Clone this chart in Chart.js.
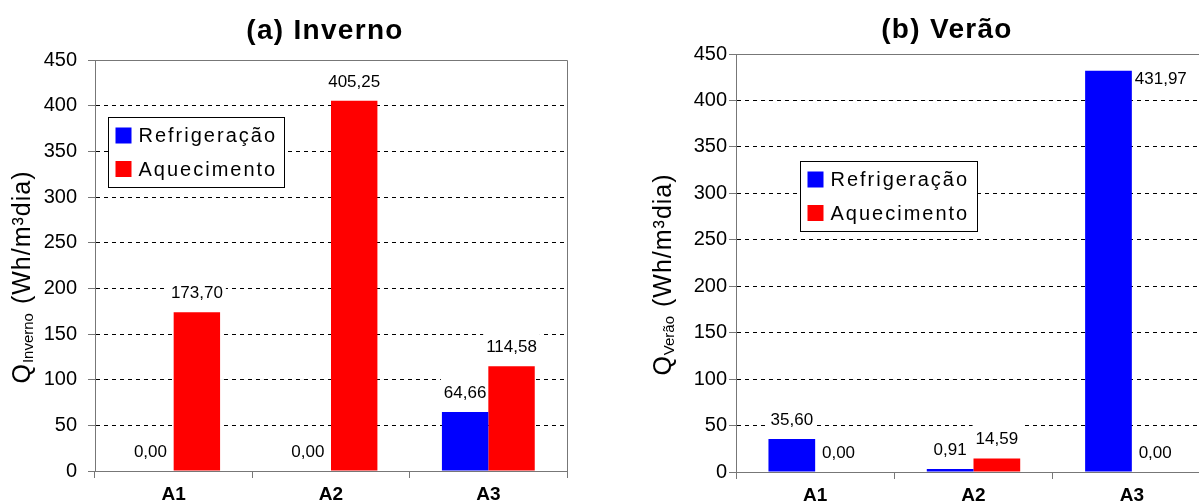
<!DOCTYPE html>
<html>
<head>
<meta charset="utf-8">
<script src="https://cdn.jsdelivr.net/npm/chart.js@4.4.1/dist/chart.umd.min.js"></script>
<style>
    html, body { margin: 0; padding: 0; background: #fff; overflow: hidden; width: 1199px; height: 504px; }
    canvas { position: absolute; top: 0; }
    #chartInverno { left: 0; }
    #chartVerao { left: 600px; }
</style>
</head>
<body>
<canvas id="chartInverno" width="650" height="504"></canvas>
<canvas id="chartVerao" width="650" height="504"></canvas>
<script>
// dados
const categorias = ['A1', 'A2', 'A3'];
const nomesSeries = ['Refrigeração', 'Aquecimento'];
const invernoRefrigeracao = [0.00, 0.00, 64.66];
const invernoAquecimento = [173.70, 405.25, 114.58];
const veraoRefrigeracao = [35.60, 0.91, 431.97];
const veraoAquecimento = [0.00, 14.59, 0.00];
const eixoYMin = 0;
const eixoYMax = 450;
const eixoYPasso = 50;

const FONTE = "'Liberation Sans', Arial, sans-serif";
const AZUL = '#0000ff';
const VERMELHO = '#ff0000';
const CINZA_EIXO = '#777777';

Chart.defaults.font.family = FONTE;
Chart.defaults.color = '#000';

function formatar(v) {
    return v.toFixed(2).replace('.', ',');
}

// moldura: linha de cima e da direita
const moldura = {
    id: 'moldura',
    beforeDatasetsDraw(chart) {
        const { ctx, chartArea: a } = chart;
        ctx.save();
        ctx.strokeStyle = CINZA_EIXO;
        ctx.lineWidth = 1;
        ctx.setLineDash([]);
        ctx.beginPath();
        ctx.moveTo(a.left, Math.round(a.top) + 0.5);
        ctx.lineTo(Math.round(a.right) + 0.5, Math.round(a.top) + 0.5);
        ctx.lineTo(Math.round(a.right) + 0.5, a.bottom);
        ctx.stroke();
        ctx.restore();
    }
};

// posição de cada rótulo de valor
function posicoesRotulos(chart, ctx) {
    const a = chart.chartArea;
    const lista = [];
    chart.data.datasets.forEach((ds, i) => {
        chart.getDatasetMeta(i).data.forEach((bar, j) => {
            const txt = formatar(ds.data[j]);
            const w = ctx.measureText(txt).width;
            let cx = bar.x;
            let cy = bar.y - 20;
            if (cy - 10 < a.top) {
                // não cabe em cima: vai ao lado da barra
                cx = bar.x + bar.width / 2 + 3 + w / 2;
                cy = bar.y + 7;
            }
            lista.push({ txt, w, cx, cy });
        });
    });
    return lista;
}

// rótulos de valores: fundo branco por baixo das barras, texto por cima
const rotulos = {
    id: 'rotulos',
    beforeDatasetsDraw(chart) {
        const ctx = chart.ctx;
        ctx.save();
        ctx.font = '17px ' + FONTE;
        ctx.fillStyle = '#fff';
        posicoesRotulos(chart, ctx).forEach(r => {
            ctx.fillRect(r.cx - r.w / 2 - 3, r.cy - 16, r.w + 6, 24);
        });
        ctx.restore();
    },
    afterDatasetsDraw(chart) {
        const ctx = chart.ctx;
        ctx.save();
        ctx.font = '17px ' + FONTE;
        ctx.fillStyle = '#000';
        ctx.textAlign = 'center';
        ctx.textBaseline = 'alphabetic';
        posicoesRotulos(chart, ctx).forEach(r => {
            ctx.fillText(r.txt, r.cx, r.cy + 6);
        });
        ctx.restore();
    }
};

// legenda dentro da área do gráfico
const legendaCaixa = {
    id: 'legendaCaixa',
    afterDraw(chart, args, opts) {
        const { ctx, chartArea: a } = chart;
        const x0 = Math.round(a.left + opts.dx) + 0.5;
        const y0 = Math.round(a.top + opts.dy) + 0.5;
        ctx.save();
        ctx.setLineDash([]);
        ctx.fillStyle = '#fff';
        ctx.fillRect(x0, y0, opts.w, 70);
        ctx.strokeStyle = '#000';
        ctx.lineWidth = 1;
        ctx.strokeRect(x0, y0, opts.w, 70);
        ctx.font = '20px ' + FONTE;
        ctx.letterSpacing = '2px';
        ctx.textBaseline = 'middle';
        ctx.textAlign = 'left';
        chart.data.datasets.forEach((ds, i) => {
            const cy = y0 + 18 + i * 33.5;
            ctx.fillStyle = ds.backgroundColor;
            ctx.fillRect(x0 + 7, cy - 8, 16, 16);
            ctx.fillStyle = '#000';
            ctx.fillText(ds.label, x0 + 30, cy + 1);
        });
        ctx.restore();
    }
};

// título do eixo y com subscrito
const tituloEixoY = {
    id: 'tituloEixoY',
    afterDraw(chart, args, opts) {
        const { ctx, chartArea: a } = chart;
        const partes = [
            { t: 'Q', f: '25px ' + FONTE, dy: 0, ls: '0px' },
            { t: opts.sub, f: '15px ' + FONTE, dy: 2.5, ls: '0px' },
            { t: ' (Wh/m³dia)', f: '25px ' + FONTE, dy: 0, ls: '1px' }
        ];
        ctx.save();
        let total = 0;
        partes.forEach(p => {
            ctx.font = p.f;
            ctx.letterSpacing = p.ls;
            p.w = ctx.measureText(p.t).width + 1;
            total += p.w;
        });
        ctx.translate(a.left - 65, (a.top + a.bottom) / 2 + 11);
        ctx.rotate(-Math.PI / 2);
        ctx.fillStyle = '#000';
        ctx.textAlign = 'left';
        ctx.textBaseline = 'alphabetic';
        let x = -total / 2;
        partes.forEach(p => {
            ctx.font = p.f;
            ctx.letterSpacing = p.ls;
            ctx.fillText(p.t, x, p.dy);
            x += p.w;
        });
        ctx.restore();
    }
};

// título do gráfico
const tituloGrafico = {
    id: 'tituloGrafico',
    afterDraw(chart, args, opts) {
        const { ctx, chartArea: a } = chart;
        ctx.save();
        ctx.font = 'bold 28px ' + FONTE;
        ctx.letterSpacing = '1.3px';
        ctx.fillStyle = '#000';
        ctx.textAlign = 'center';
        ctx.textBaseline = 'middle';
        ctx.fillText(opts.text, a.left + opts.dx, opts.y);
        ctx.restore();
    }
};

function criarGrafico(id, refrig, aquec, cfg) {
    const ctx = document.getElementById(id).getContext('2d');
    return new Chart(ctx, {
        type: 'bar',
        data: {
            labels: categorias,
            datasets: [
                {
                    label: nomesSeries[0], data: refrig, backgroundColor: AZUL, borderWidth: 0,
                    minBarLength: refrig.every(v => v > 0) ? 3 : 0
                },
                {
                    label: nomesSeries[1], data: aquec, backgroundColor: VERMELHO, borderWidth: 0,
                    minBarLength: aquec.every(v => v > 0) ? 3 : 0
                }
            ]
        },
        options: {
            responsive: false,
            animation: false,
            devicePixelRatio: 1,
            categoryPercentage: 0.59,
            barPercentage: 1,
            layout: { padding: { top: cfg.top, right: cfg.right, left: 0, bottom: 0 } },
            plugins: {
                legend: { display: false },
                title: { display: false },
                tooltip: { enabled: false },
                legendaCaixa: { dx: cfg.legDx, dy: cfg.legDy, w: cfg.legW },
                tituloEixoY: { sub: cfg.sub },
                tituloGrafico: { text: cfg.titulo, dx: cfg.tituloDx, y: cfg.tituloY }
            },
            scales: {
                x: {
                    afterFit: s => { s.height = cfg.alturaX; },
                    grid: {
                        drawOnChartArea: false,
                        drawTicks: true,
                        tickLength: 7,
                        tickColor: CINZA_EIXO
                    },
                    border: { color: CINZA_EIXO, z: 1 },
                    ticks: { font: { size: 19, weight: 'bold' }, padding: 5, color: '#000' }
                },
                y: {
                    min: eixoYMin,
                    max: eixoYMax,
                    afterFit: s => { s.width = cfg.larguraY; },
                    grid: {
                        color: c => (c.tick && (c.tick.value === eixoYMin || c.tick.value === eixoYMax)) ? 'rgba(0,0,0,0)' : '#000',
                        tickBorderDash: [],
                        tickColor: CINZA_EIXO,
                        tickLength: 7,
                        lineWidth: 1
                    },
                    border: { color: CINZA_EIXO, dash: [4, 4] },
                    ticks: {
                        stepSize: eixoYPasso,
                        font: { size: 20 },
                        padding: cfg.padY,
                        color: '#000'
                    }
                }
            }
        },
        plugins: [moldura, rotulos, legendaCaixa, tituloEixoY, tituloGrafico]
    });
}

criarGrafico('chartInverno', invernoRefrigeracao, invernoAquecimento, {
    top: 60, right: 83, alturaX: 33, larguraY: 95, padY: 11,
    legDx: 13, legDy: 57, legW: 176,
    sub: 'Inverno', titulo: '(a) Inverno', tituloDx: 230, tituloY: 31
});

criarGrafico('chartVerao', veraoRefrigeracao, veraoAquecimento, {
    top: 54, right: 39, alturaX: 32, larguraY: 136, padY: 2,
    legDx: 64, legDy: 107, legW: 177,
    sub: 'Verão', titulo: '(b) Verão', tituloDx: 211, tituloY: 30
});
</script>
</body>
</html>
